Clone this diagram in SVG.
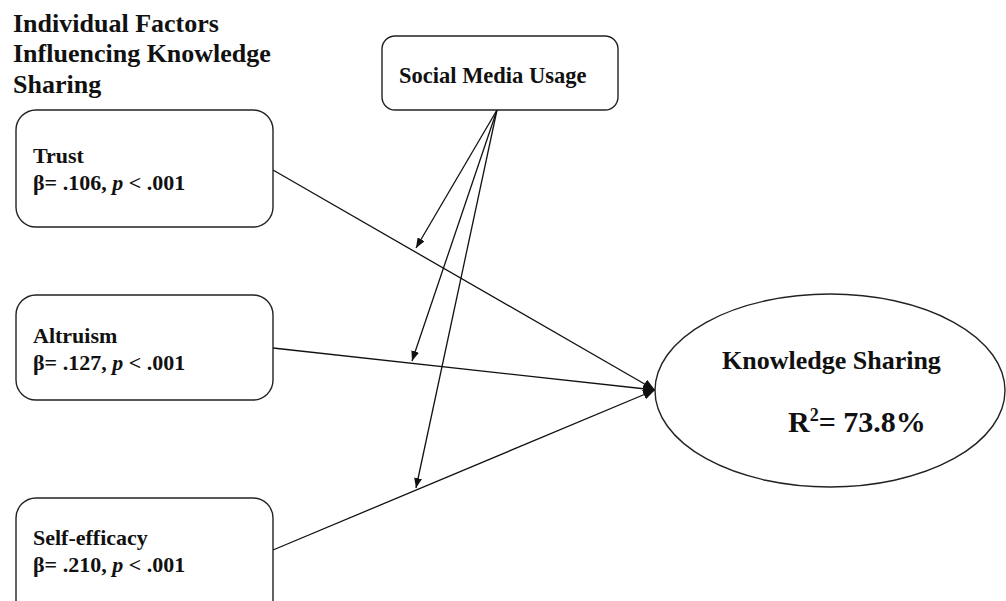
<svg xmlns="http://www.w3.org/2000/svg" width="1006" height="601" viewBox="0 0 1006 601">
<style>
  .box { fill: #fff; stroke: #222; stroke-width: 1.4; }
  .t { font-family: "Liberation Serif", "Times New Roman", serif; font-weight: bold; fill: #111; }
  .n { font-size: 22px; }
  .conn line { stroke: #111; stroke-width: 1.3; fill: none; }
</style>
<defs>
  <marker id="ah" viewBox="0 0 10 8" refX="10" refY="4" markerWidth="10" markerHeight="8" markerUnits="userSpaceOnUse" orient="auto">
    <path d="M0,0 L10,4 L0,8 Z" fill="#111"/>
  </marker>
  <marker id="ahb" viewBox="0 0 12 10" refX="12" refY="5" markerWidth="12" markerHeight="10" markerUnits="userSpaceOnUse" orient="auto">
    <path d="M0,0 L12,5 L0,10 Z" fill="#111"/>
  </marker>
</defs>
<rect width="1006" height="601" fill="#fff"/>
<g id="title">
  <text class="t" x="13" y="32" font-size="26">Individual Factors</text>
  <text class="t" x="13" y="62" font-size="26">Influencing Knowledge</text>
  <text class="t" x="13" y="93" font-size="26">Sharing</text>
</g>
<g class="conn" id="connectors">
  <line x1="273" y1="170" x2="655" y2="390" marker-end="url(#ahb)"/>
  <line x1="273" y1="348" x2="655" y2="390" marker-end="url(#ahb)"/>
  <line x1="273" y1="550" x2="655" y2="390" marker-end="url(#ahb)"/>
  <line x1="497" y1="110" x2="416" y2="248" marker-end="url(#ah)"/>
  <line x1="497" y1="110" x2="412" y2="361" marker-end="url(#ah)"/>
  <line x1="497" y1="110" x2="416" y2="488" marker-end="url(#ah)"/>
</g>
<g id="social-media">
  <rect class="box" x="382" y="36" width="236" height="74" rx="13"/>
  <text class="t" x="399" y="83" font-size="22.5">Social Media Usage</text>
</g>
<g id="trust">
  <rect class="box" x="16" y="110" width="257" height="117" rx="20"/>
  <text class="t n" x="33" y="163">Trust</text>
  <text class="t n" x="33" y="190">β= .106, <tspan font-style="italic">p</tspan> &lt; .001</text>
</g>
<g id="altruism">
  <rect class="box" x="16" y="295" width="257" height="105" rx="20"/>
  <text class="t n" x="33" y="343">Altruism</text>
  <text class="t n" x="33" y="370">β= .127, <tspan font-style="italic">p</tspan> &lt; .001</text>
</g>
<g id="self-efficacy">
  <rect class="box" x="16" y="498" width="257" height="130" rx="20"/>
  <text class="t n" x="33" y="545">Self-efficacy</text>
  <text class="t n" x="33" y="572">β= .210, <tspan font-style="italic">p</tspan> &lt; .001</text>
</g>
<g id="knowledge-sharing">
  <ellipse class="box" cx="830" cy="390.5" rx="175" ry="96.5"/>
  <text class="t" x="722" y="369" font-size="26">Knowledge Sharing</text>
  <text class="t" x="788" y="432" font-size="30">R<tspan font-size="18" dy="-11">2</tspan><tspan dy="11">= 73.8%</tspan></text>
</g>
</svg>
